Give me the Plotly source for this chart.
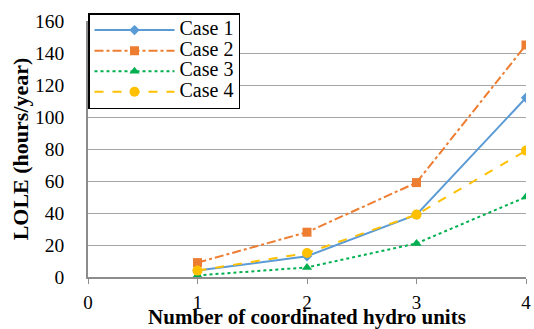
import plotly.graph_objects as go

units = [1, 2, 3, 4]
case1 = [4, 13, 39, 112]
case2 = [9, 28, 59, 145]
case3 = [1, 6, 21, 50]
case4 = [4, 15, 39, 79]
names = ["Case 1", "Case 2", "Case 3", "Case 4"]
x_ticks = [0, 1, 2, 3, 4]
y_ticks = [0, 20, 40, 60, 80, 100, 120, 140, 160]

styles = [
    dict(color="#5B9BD5", dash="solid", symbol="diamond", size=8),
    dict(color="#ED7D31", dash="dashdot", symbol="square", size=9),
    dict(color="#00B050", dash="dot", symbol="triangle-up", size=9),
    dict(color="#FFC000", dash="dash", symbol="circle", size=10),
]

fig = go.Figure()
for name, vals, st in zip(names, [case1, case2, case3, case4], styles):
    fig.add_trace(go.Scatter(
        x=units, y=vals, mode="lines+markers",
        name='<span style="font-size:20px">' + name + '</span>',
        line=dict(color=st["color"], dash=st["dash"], width=2),
        marker=dict(symbol=st["symbol"], size=st["size"], color=st["color"]),
    ))

serif = "Times New Roman, Liberation Serif, serif"
fig.update_layout(
    width=534, height=329,
    margin=dict(l=88, r=8, t=21, b=52, autoexpand=False),
    paper_bgcolor="white", plot_bgcolor="white",
    font=dict(family=serif, size=19, color="black"),
    legend=dict(
        x=0, y=1.03, xanchor="left", yanchor="top",
        bordercolor="black", borderwidth=1.5, bgcolor="white",
        font=dict(family=serif, size=13.5, color="black"),
        itemwidth=80, tracegroupgap=0,
    ),
    xaxis=dict(
        range=[0, 4], tickvals=x_ticks, showgrid=False,
        showline=True, linecolor="#8c8c8c", linewidth=1.5,
        ticks="outside", tickcolor="#8c8c8c", ticklen=5,
        ticklabelstandoff=2,
        tickfont=dict(family=serif, size=19),
        title=dict(text="<b>Number of coordinated hydro units</b>",
                   font=dict(family=serif, size=21), standoff=2),
        zeroline=False, automargin=False,
    ),
    yaxis=dict(
        range=[0, 160], tickvals=y_ticks, showgrid=True,
        gridcolor="#a6a6a6", gridwidth=1.2,
        showline=True, linecolor="#8c8c8c", linewidth=1.5,
        ticks="", ticklabelstandoff=18,
        tickfont=dict(family=serif, size=19.5),
        title=dict(text="<b>LOLE (hours/year)</b>",
                   font=dict(family=serif, size=22), standoff=0),
        zeroline=False, automargin=False,
    ),
)

fig.write_html("out.html")
